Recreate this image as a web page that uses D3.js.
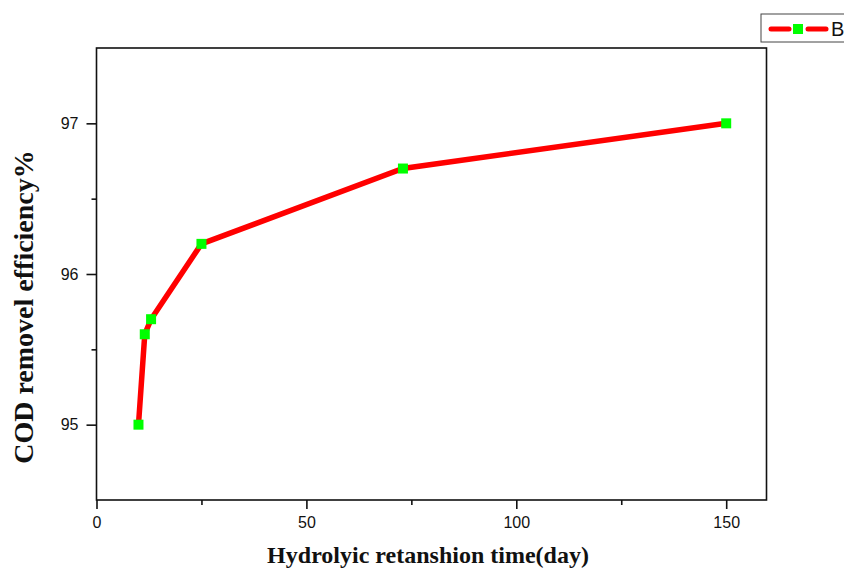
<!DOCTYPE html>
<html>
<head>
<meta charset="utf-8">
<script src="https://cdn.jsdelivr.net/npm/d3@7"></script>
<style>
  body { margin: 0; background: #fff; }
  svg { display: block; }
  .tick text { font-family: "Liberation Sans", Arial, sans-serif; font-size: 16px; fill: #111; }
  .title { font-family: "Liberation Serif", "Times New Roman", serif; font-weight: bold; fill: #111; }
</style>
</head>
<body>
<svg width="844" height="569"></svg>
<script>
// data
var hrt = [10, 11.5, 13, 25, 73, 150];          // hydrolytic retention time (day)
var codRemoval = [95, 95.6, 95.7, 96.2, 96.7, 97]; // COD removal %
var xTicks = [0, 50, 100, 150];
var xMinor = [25, 75, 125];
var yTicks = [95, 96, 97];
var yMinor = [95.5, 96.5];
var seriesName = 'B';

var svg = d3.select('svg');
// plot box
let padL = 96.5, padR = 766.5, padT = 48, padB = 500;

var x = d3.scaleLinear().domain([0, 159.6]).range([padL, padR]);
var y = d3.scaleLinear().domain([94.5, 97.5]).range([padB, padT]);

// frame
svg.append('rect')
    .attr('x', padL).attr('y', padT)
    .attr('width', padR - padL).attr('height', padB - padT)
    .attr('fill', 'none').attr('stroke', '#111').attr('stroke-width', 1.6);

// x axis
svg.append('g').attr('transform', 'translate(0,' + padB + ')')
    .call(d3.axisBottom(x).tickValues(xTicks).tickFormat(d3.format('d')).tickSize(9).tickPadding(8));
svg.append('g').attr('transform', 'translate(0,' + padB + ')')
    .call(d3.axisBottom(x).tickValues(xMinor).tickFormat('').tickSize(5));

// y axis
svg.append('g').attr('transform', 'translate(' + padL + ',0)')
    .call(d3.axisLeft(y).tickValues(yTicks).tickFormat(d3.format('d')).tickSize(10).tickPadding(8));
svg.append('g').attr('transform', 'translate(' + padL + ',0)')
    .call(d3.axisLeft(y).tickValues(yMinor).tickFormat('').tickSize(5));

svg.selectAll('.domain').remove();
svg.selectAll('.tick line').attr('stroke', '#111').attr('stroke-width', 1.6);

// line + markers
var pts = hrt.map(function(d, i) { return [d, codRemoval[i]]; });
var line = d3.line().x(function(d) { return x(d[0]); }).y(function(d) { return y(d[1]); });
svg.append('path')
    .datum(pts)
    .attr('d', line)
    .attr('fill', 'none')
    .attr('stroke', '#ff0000')
    .attr('stroke-width', 5.5);

svg.selectAll('.marker').data(pts).enter().append('rect')
    .attr('class', 'marker')
    .attr('x', function(d) { return x(d[0]) - 5; })
    .attr('y', function(d) { return y(d[1]) - 5; })
    .attr('width', 10).attr('height', 10)
    .attr('fill', '#00ff00');

// axis titles
svg.append('text').attr('class', 'title')
    .attr('x', 428).attr('y', 563)
    .attr('text-anchor', 'middle')
    .attr('font-size', 24)
    .text('Hydrolyic retanshion time(day)');
svg.append('text').attr('class', 'title')
    .attr('transform', 'translate(33,307) rotate(-90)')
    .attr('text-anchor', 'middle')
    .attr('font-size', 28)
    .text('COD removel efficiency%');

// legend (cut off by the right edge like the original)
var lg = svg.append('g');
lg.append('rect')
    .attr('x', 761).attr('y', 14).attr('width', 100).attr('height', 28)
    .attr('fill', '#fff').attr('stroke', '#444').attr('stroke-width', 1);
lg.append('line').attr('x1', 771).attr('x2', 789).attr('y1', 29).attr('y2', 29)
    .attr('stroke', '#ff0000').attr('stroke-width', 5).attr('stroke-linecap', 'round');
lg.append('line').attr('x1', 808).attr('x2', 826).attr('y1', 29).attr('y2', 29)
    .attr('stroke', '#ff0000').attr('stroke-width', 5).attr('stroke-linecap', 'round');
lg.append('rect').attr('x', 793).attr('y', 24).attr('width', 10).attr('height', 10)
    .attr('fill', '#00ff00');
lg.append('text')
    .attr('x', 831).attr('y', 36)
    .attr('font-family', '"Liberation Sans", Arial, sans-serif')
    .attr('font-size', 20).attr('fill', '#111')
    .text(seriesName);
</script>
</body>
</html>
